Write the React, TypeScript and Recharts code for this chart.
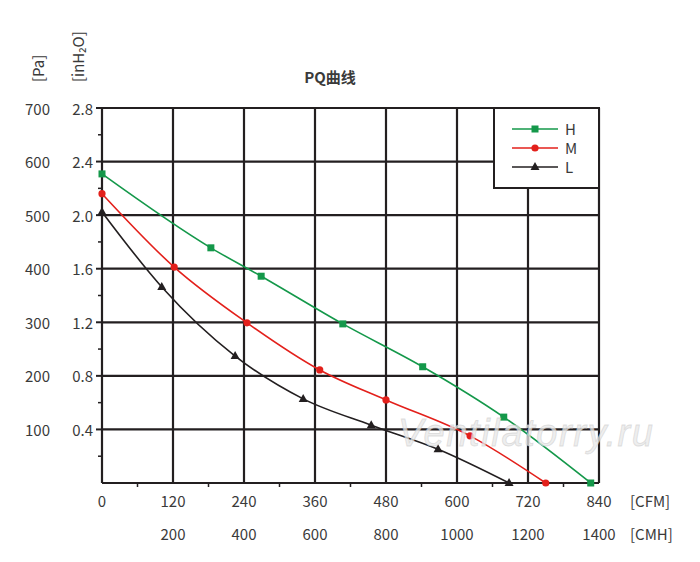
import { LineChart, Line, XAxis, YAxis, CartesianGrid, Legend } from 'recharts';

// grid / tick values (CFM on x, Pa on y)
const cfmGrid = [0, 120, 240, 360, 480, 600, 720, 840];
const cfmMinor = [60, 180, 300, 420, 540, 660, 780];
const cmhLabels = ['', '200', '400', '600', '800', '1000', '1200', '1400'];
const paGrid = [0, 100, 200, 300, 400, 500, 600, 700];
const paMinor = [50, 150, 250, 350, 450, 550, 650];
const inH2OLabels = ['', '0.4', '0.8', '1.2', '1.6', '2.0', '2.4', '2.8'];

// PQ curves
const highCfm = [0, 184, 269, 407, 542, 679, 826];
const highPa = [577, 439, 386, 297, 217, 123, 0];
const midCfm = [0, 122, 245, 368, 480, 622, 750];
const midPa = [540, 403, 299, 211, 155, 88, 0];
const lowCfm = [0, 101, 225, 340, 455, 568, 688];
const lowPa = [506, 366, 237, 157, 108, 63, 0];

const GREEN = '#14984a';
const RED = '#e3201b';
const BLACK = '#231f20';
const TEXT = '#3a3a3a';
const FONT = '"Noto Sans CJK SC", "Noto Sans", sans-serif';

const rows = (cfm: number[], pa: number[]) => cfm.map((c, i) => ({ cfm: c, pa: pa[i] }));

const series = [
  { name: 'H', color: GREEN, shape: 'square', data: rows(highCfm, highPa) },
  { name: 'M', color: RED, shape: 'circle', data: rows(midCfm, midPa) },
  { name: 'L', color: BLACK, shape: 'triangle', data: rows(lowCfm, lowPa) },
];

function Marker({ cx, cy, shape, color }: { cx: number; cy: number; shape: string; color: string }) {
  if (shape === 'square') return <rect x={cx - 3.5} y={cy - 3.5} width={7} height={7} fill={color} />;
  if (shape === 'circle') return <circle cx={cx} cy={cy} r={3.6} fill={color} />;
  return <path d={`M${cx},${cy - 5} L${cx + 4.5},${cy + 3} L${cx - 4.5},${cy + 3} Z`} fill={color} />;
}

const YTick = (props: any) => {
  const { x, y, payload } = props;
  const i = paGrid.indexOf(payload.value);
  if (i < 0) return <line x1={x - 4} x2={x} y1={y} y2={y} stroke={BLACK} strokeWidth={1.5} />;
  if (i === 0) return <g />;
  return (
    <g fontFamily={FONT} fontSize={15} fill={TEXT}>
      <line x1={x - 6} x2={x} y1={y} y2={y} stroke={BLACK} strokeWidth={2} />
      <text x={x - 52} y={y} textAnchor="end" dominantBaseline="central">
        {payload.value}
      </text>
      <text x={x - 9} y={y} textAnchor="end" dominantBaseline="central">
        {inH2OLabels[i]}
      </text>
    </g>
  );
};

const XTick = (props: any) => {
  const { x, y, payload } = props;
  const i = cfmGrid.indexOf(payload.value);
  if (i < 0) return <line x1={x} x2={x} y1={y} y2={y + 4} stroke={BLACK} strokeWidth={1.5} />;
  const last = i === cfmGrid.length - 1;
  return (
    <g fontFamily={FONT} fontSize={15} fill={TEXT}>
      <text x={x} y={y + 17} textAnchor="middle" dominantBaseline="central">
        {payload.value}
      </text>
      <text x={x} y={y + 50} textAnchor="middle" dominantBaseline="central">
        {cmhLabels[i]}
      </text>
      {last && (
        <>
          <text x={x + 31} y={y + 17} dominantBaseline="central">[CFM]</text>
          <text x={x + 31} y={y + 50} dominantBaseline="central">[CMH]</text>
        </>
      )}
    </g>
  );
};

function LegendBox() {
  return (
    <div
      style={{
        boxSizing: 'border-box',
        width: 107,
        height: 82,
        border: `2px solid ${BLACK}`,
        background: '#fff',
        paddingTop: 10,
      }}
    >
      {series.map((s) => (
        <div key={s.name} style={{ display: 'flex', alignItems: 'center', height: 19 }}>
          <svg width={70} height={12} style={{ marginLeft: 17 }}>
            <line x1={0} x2={46} y1={6} y2={6} stroke={s.color} strokeWidth={1.6} />
            <Marker cx={23} cy={6} shape={s.shape} color={s.color} />
          </svg>
          <span style={{ fontFamily: FONT, fontSize: 15, color: TEXT, marginLeft: -17 }}>{s.name}</span>
        </div>
      ))}
    </div>
  );
}

export default function App() {
  return (
    <div style={{ position: 'absolute', left: 0, top: 0, width: 700, height: 562, background: '#fff' }}>
      <LineChart width={700} height={562} margin={{ top: 108, right: 101, bottom: 0, left: 0 }}>
        <CartesianGrid
          stroke={BLACK}
          strokeWidth={2.2}
          horizontalValues={paGrid}
          verticalValues={cfmGrid}
        />
        <XAxis
          type="number"
          dataKey="cfm"
          domain={[0, 840]}
          ticks={[...cfmGrid, ...cfmMinor].sort((a, b) => a - b)}
          interval={0}
          height={79}
          axisLine={false}
          tickLine={false}
          tickSize={0}
          tickMargin={0}
          tick={<XTick />}
        />
        <YAxis
          type="number"
          domain={[0, 700]}
          ticks={[...paGrid, ...paMinor].sort((a, b) => a - b)}
          interval={0}
          width={102}
          axisLine={false}
          tickLine={false}
          tickSize={0}
          tickMargin={0}
          tick={<YTick />}
        />
        <Legend
          layout="vertical"
          align="center"
          verticalAlign="middle"
          wrapperStyle={{ left: 493, top: 107, width: 107, height: 82 }}
          content={() => <LegendBox />}
        />
        {series.map((s) => (
          <Line
            key={s.name}
            data={s.data}
            dataKey="pa"
            name={s.name}
            type="monotone"
            stroke={s.color}
            strokeWidth={1.6}
            isAnimationActive={false}
            dot={(p: any) => <Marker key={`${s.name}-${p.index}`} cx={p.cx} cy={p.cy} shape={s.shape} color={s.color} />}
            activeDot={false}
          />
        ))}
      </LineChart>
      <svg
        width={700}
        height={562}
        style={{ position: 'absolute', left: 0, top: 0, pointerEvents: 'none' }}
        fontFamily={FONT}
      >
        <text x={330} y={76} textAnchor="middle" dominantBaseline="central" fontSize={15} fontWeight={600} fill={TEXT}>
          PQ曲线
        </text>
        <text transform="translate(37,82) rotate(-90)" dominantBaseline="central" fontSize={15} fill={TEXT}>
          [Pa]
        </text>
        <text transform="translate(77,82) rotate(-90)" dominantBaseline="central" fontSize={15} fill={TEXT}>
          [inH₂O]
        </text>
        <text
          x={398}
          y={446}
          fontFamily='"Liberation Sans", Arial, sans-serif'
          fontStyle="italic"
          fontSize={38}
          textLength={255}
          fill="#e9e9e9"
          fillOpacity={0.75}
          stroke="#cccccc"
          strokeOpacity={0.6}
          strokeWidth={0.8}
        >
          Ventilatorry.ru
        </text>
      </svg>
    </div>
  );
}
